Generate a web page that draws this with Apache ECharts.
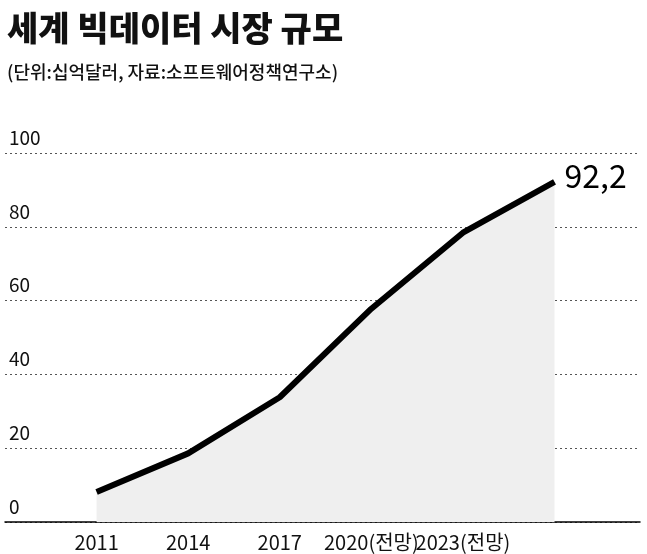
<!DOCTYPE html>
<html><head><meta charset="utf-8">
<script src="https://cdn.jsdelivr.net/npm/echarts@6/dist/echarts.min.js"></script>
<style>html,body{margin:0;background:#fff}#c{width:647px;height:554px}</style>
</head><body><div id="c"></div>
<script>
const years = [2011, 2014, 2017, 2020, 2023, 2026];
const yearLabels = ["2011", "2014", "2017", "2020(전망)", "2023(전망)", "2026(전망)"];
const values = [8.1, 18.6, 33.8, 57.8, 78.4, 92.2];
const yTicks = [0, 20, 40, 60, 80, 100];

const font = '"Noto Sans CJK KR", sans-serif';
const numFont = '"Liberation Sans Narrow", "Noto Sans CJK KR", sans-serif';
const chart = echarts.init(document.getElementById("c"));
chart.setOption({
  animation: false,
  title: [
    { text: "세계 빅데이터 시장 규모", left: 2, top: 6,
      textStyle: { fontFamily: font, fontSize: 34, fontWeight: 900, color: "#111" } },
    { text: "(단위:십억달러, 자료:소프트웨어정책연구소)", left: 2, top: 58,
      textStyle: { fontFamily: font, fontSize: 18, fontWeight: 500, color: "#111" } }
  ],
  grid: { left: 5, right: 7, top: 153, bottom: 32 },
  xAxis: {
    type: "value", min: 2008, max: 2028.8,
    axisLine: { lineStyle: { color: "#000", width: 1.5 } },
    axisTick: { show: false },
    splitLine: { show: false },
    axisLabel: {
      customValues: years,
      formatter: v => yearLabels[years.indexOf(v)] || "",
      fontFamily: numFont, fontSize: 20, color: "#111", margin: 10
    }
  },
  yAxis: {
    type: "value", min: 0, max: 100, interval: 20,
    axisLine: { show: false }, axisTick: { show: false },
    splitLine: { lineStyle: { color: "#555", type: [2, 3], width: 1 } },
    axisLabel: {
      inside: true, verticalAlign: "bottom", margin: 4, padding: [0, 0, 6, 0],
      formatter: v => yTicks.includes(v) ? String(v) : "",
      fontFamily: numFont, fontSize: 19, color: "#111"
    }
  },
  series: [{
    type: "line",
    data: years.map((y, i) => [y, values[i]]),
    symbol: "none",
    lineStyle: { color: "#000", width: 6 },
    areaStyle: { color: "#efefef", opacity: 1 },
    endLabel: {
      show: true, formatter: p => p.value[1].toFixed(1).replace(".", ","),
      fontFamily: numFont, fontSize: 32, color: "#000", distance: 10, offset: [0, -6]
    }
  }]
});
</script></body></html>
